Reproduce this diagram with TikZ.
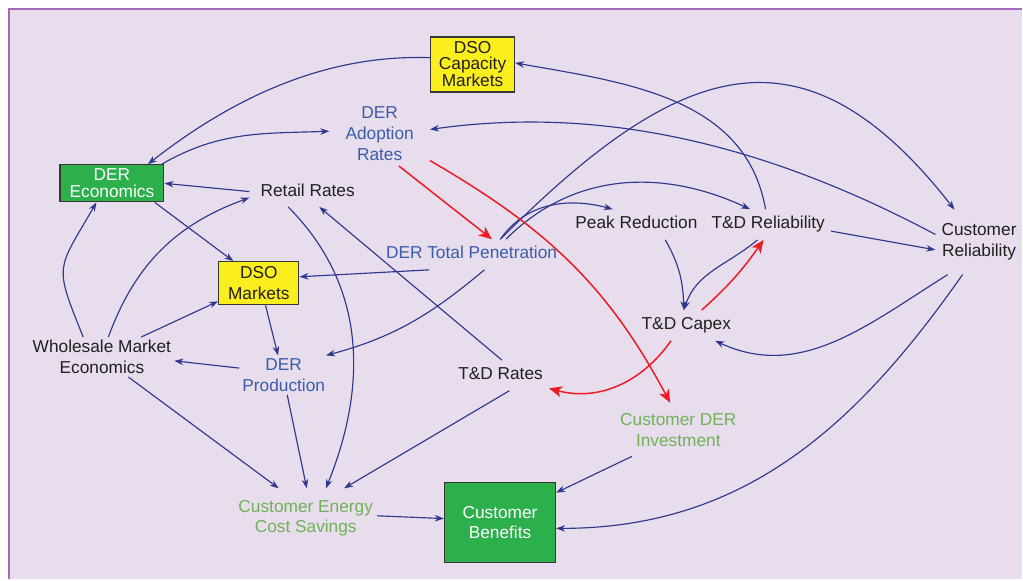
\documentclass[tikz,border=0pt]{standalone}
\usepackage{fontspec}
\setmainfont{Liberation Sans}
\usetikzlibrary{arrows.meta}

\definecolor{bgpurple}{RGB}{231,221,237}
\definecolor{framepurple}{RGB}{165,105,185}
\definecolor{linkblue}{RGB}{46,56,140}
\definecolor{textblue}{RGB}{58,92,170}
\definecolor{textgreen}{RGB}{112,178,86}
\definecolor{textdark}{RGB}{35,31,32}
\definecolor{linkred}{RGB}{237,28,36}
\definecolor{boxyellow}{RGB}{250,238,30}
\definecolor{boxgreen}{RGB}{44,176,76}
\definecolor{boxedge}{RGB}{55,55,55}

\begin{document}
\begin{tikzpicture}[x=1pt,y=-1pt,
  every node/.style={font=\fontsize{17.3}{21}\selectfont, align=center},
  lbl/.style={inner xsep=6pt, inner ysep=7pt, text=textdark},
  oneline/.style={text height=12.6pt, text depth=3.7pt},
  blu/.style={text=textblue},
  grn/.style={text=textgreen},
  box/.style={draw=boxedge, line width=1.3pt, inner sep=0pt},
  ybox/.style={box, fill=boxyellow, text=textdark},
  gbox/.style={box, fill=boxgreen, text=white},
  link/.style={draw=linkblue, line width=1.15pt, -{Stealth[length=9pt,width=6.5pt,inset=2.8pt]}},
  hot/.style={draw=linkred, line width=1.5pt, -{Stealth[length=13pt,width=11pt,inset=3.5pt]}},
]
% page and frame
\fill[white] (0,0) rectangle (1023,580);
\fill[bgpurple] (9.3,9.3) rectangle (1023,580);
\draw[framepurple, line width=2pt] (9.3,580) -- (9.3,9.3) -- (1023,9.3);
\useasboundingbox (0,0) rectangle (1023,580);

% variables
\node[ybox, minimum width=84pt, minimum height=55pt, font=\fontsize{17.3}{16}\selectfont] (cap) at (473,64.5) {DSO\\Capacity\\Markets};
\node[lbl, blu, inner xsep=16pt, inner ysep=5pt] (adopt) at (380,134) {DER\\Adoption\\Rates};
\node[gbox, minimum width=104pt, minimum height=37pt, font=\fontsize{17.3}{17}\selectfont] (econ) at (112,183.5) {DER\\Economics};
\node[lbl, oneline, inner xsep=11pt] (rr) at (308,191.75) {Retail Rates};
\node[ybox, minimum width=80pt, minimum height=43pt] (dsom) at (259,283.5) {DSO\\Markets};
\node[lbl, oneline, blu] (pen) at (472,254.75) {DER Total Penetration};
\node[lbl, oneline] (peak) at (637,224.75) {Peak Reduction};
\node[lbl, oneline] (tdr) at (769,224.75) {T\&D Reliability};
\node[lbl, inner ysep=14pt] (cr) at (980,242.4) {Customer\\Reliability};
\node[lbl, oneline] (capex) at (687,325.75) {T\&D Capex};
\node[lbl, inner sep=3pt] (wme) at (102,357.4) {Wholesale Market\\Economics};
\node[lbl, blu, inner sep=3pt] (prod) at (284,375.5) {DER\\Production};
\node[lbl, oneline] (tdrates) at (501,375.75) {T\&D Rates};
\node[lbl, grn, inner xsep=4pt, inner ysep=10pt] (inv) at (679,430) {Customer DER\\Investment};
\node[lbl, grn, inner xsep=4pt, inner ysep=12pt, font=\fontsize{17.3}{20}\selectfont] (cecs) at (306,518.8) {Customer Energy\\Cost Savings};
\node[gbox, minimum width=111pt, minimum height=80pt, font=\fontsize{17.3}{20}\selectfont] (ben) at (500.5,523) {Customer\\Benefits};

% causal links
\draw[link] (cap.171) to[out=178,in=38,looseness=0.9] (econ.28);
\draw[link] (econ.21) to[out=30,in=182] (adopt.177);
\draw[link] (cr.170) to[out=152,in=8,looseness=0.9] (adopt.5);
\draw[link] (tdr.100) to[out=100,in=-10] (cap.2);
\draw[link] (pen.28) to[out=45,in=128,looseness=1.4] (cr.127);
\draw[link] (pen.24) to[out=45,in=155] (tdr.140);
\draw[link] (pen.28) to[out=55,in=165] (peak.147);
\draw[link] (pen.200) -- (dsom.9);
\draw[link] (pen.-50) to[out=-140,in=15] (prod.25);
\draw[link] (tdrates.85) -- (rr.-53);
\draw[link] (rr.180) -- (econ.0);
\draw[link] (econ.-24) -- (dsom.139);
\draw[link] (wme.133) to[out=112,in=-120,looseness=1.5] (econ.-129);
\draw[link] (wme.72) to[out=70,in=-160] (rr.186);
\draw[link] (wme.27) -- (dsom.204);
\draw[link] (prod.171) -- (wme.-3);
\draw[link] (dsom.-73) -- (prod.106);
\draw[link] (rr.-142) to[out=-45,in=68] (cecs.56);
\draw[link] (prod.-80) -- (cecs.88);
\draw[link] (wme.-37) -- (cecs.132);
\draw[link] (tdrates.-60) -- (cecs.38);
\draw[link] (cecs.2) -- (ben.176);
\draw[link] (inv.-150) -- (ben.28);
\draw[link] (cr.-117) to[out=-125,in=0] (ben.-6);
\draw[link] (cr.-134) to[out=-148,in=-25] (capex.-28);
\draw[link] (tdr.-6) -- (cr.190);
\draw[link] (peak.-28) to[out=-60,in=92] (capex.99);
\draw[link] (tdr.-125) to[out=-140,in=72] (capex.99);

% reinforcing links
\draw[hot] (adopt.-59) -- (pen.37);
\draw[hot] (adopt.-28) to[out=-30,in=118] (inv.107);
\draw[hot] (capex.-135) to[out=-125,in=-15] (tdrates.-15);
\draw[hot] (capex.45) to[out=42,in=-125] (tdr.-107);
\end{tikzpicture}
\end{document}
